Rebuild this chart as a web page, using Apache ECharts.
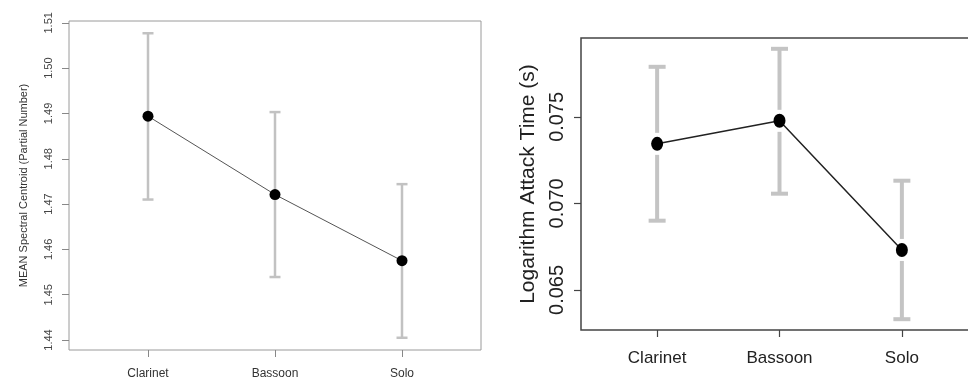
<!DOCTYPE html>
<html>
<head>
<meta charset="utf-8">
<script src="https://cdn.jsdelivr.net/npm/echarts@6/dist/echarts.min.js"></script>
<style>
html,body{margin:0;padding:0;background:#fff;}
#chart{width:968px;height:381px;}
</style>
</head>
<body>
<div id="chart"></div>
<script>
// ---- data ----
const categories = ['Clarinet', 'Bassoon', 'Solo'];
const centroidMean  = [1.4894, 1.4721, 1.4575];
const centroidLower = [1.4710, 1.4539, 1.4405];
const centroidUpper = [1.5077, 1.4903, 1.4744];
const attackMean  = [0.07344, 0.07477, 0.06731];
const attackLower = [0.06900, 0.07056, 0.06331];
const attackUpper = [0.07789, 0.07893, 0.07131];
const centroidTicks = [1.44, 1.45, 1.46, 1.47, 1.48, 1.49, 1.50, 1.51];
const attackTicks = [0.065, 0.070, 0.075];
const xTicks = [1, 2, 3];

const FONT = 'Liberation Sans, Arial, sans-serif';

const posOf = i => i + 1;
const centroidLine = centroidMean.map((v, i) => [posOf(i), v]);
const attackLine = attackMean.map((v, i) => [posOf(i), v]);
const centroidErr = centroidMean.map((v, i) => [posOf(i), v, centroidLower[i], centroidUpper[i]]);
const attackErr = attackMean.map((v, i) => [posOf(i), v, attackLower[i], attackUpper[i]]);

function errRender(opt) {
  return function (params, api) {
    const x = api.value(0), m = api.value(1), l = api.value(2), h = api.value(3);
    const pm = api.coord([x, m]), pl = api.coord([x, l]), ph = api.coord([x, h]);
    const style = { stroke: opt.color, lineWidth: opt.width, lineCap: 'butt' };
    const children = [];
    if (opt.gap > 0) {
      children.push({ type: 'line', shape: { x1: ph[0], y1: ph[1], x2: pm[0], y2: pm[1] - opt.gap }, style });
      children.push({ type: 'line', shape: { x1: pm[0], y1: pm[1] + opt.gap, x2: pl[0], y2: pl[1] }, style });
    } else {
      children.push({ type: 'line', shape: { x1: ph[0], y1: ph[1], x2: pl[0], y2: pl[1] }, style });
    }
    const cw = opt.capWidth / 2;
    children.push({ type: 'line', shape: { x1: ph[0] - cw, y1: ph[1], x2: ph[0] + cw, y2: ph[1] }, style });
    children.push({ type: 'line', shape: { x1: pl[0] - cw, y1: pl[1], x2: pl[0] + cw, y2: pl[1] }, style });
    return { type: 'group', children };
  };
}

const chart = echarts.init(document.getElementById('chart'), null, { renderer: 'canvas' });

const option = {
  animation: false,
  backgroundColor: '#ffffff',
  grid: [
    { left: 69, top: 21, width: 412, height: 329, show: true, borderColor: '#9a9a9a', borderWidth: 1, backgroundColor: 'transparent', containLabel: false, outerBoundsMode: 'none' },
    { left: 581, top: 38, width: 397, height: 292, show: true, borderColor: '#444444', borderWidth: 1.5, backgroundColor: 'transparent', containLabel: false, outerBoundsMode: 'none' }
  ],
  xAxis: [
    {
      type: 'value', gridIndex: 0, min: 0.378, max: 3.622,
      axisLine: { show: false }, splitLine: { show: false },
      axisTick: { show: true, length: 7, lineStyle: { color: '#888888', width: 1 }, customValues: xTicks },
      axisLabel: { show: true, customValues: xTicks, margin: 18, color: '#333333', fontSize: 12, fontFamily: FONT,
        formatter: v => categories[Math.round(v) - 1] || '' }
    },
    {
      type: 'value', gridIndex: 1, min: 0.378, max: 3.622,
      axisLine: { show: false }, splitLine: { show: false },
      axisTick: { show: true, length: 7, lineStyle: { color: '#444444', width: 1.2 }, customValues: xTicks },
      axisLabel: { show: true, customValues: xTicks, margin: 20, color: '#222222', fontSize: 17, fontFamily: FONT,
        formatter: v => categories[Math.round(v) - 1] || '' }
    }
  ],
  yAxis: [
    {
      type: 'value', gridIndex: 0, min: 1.4378, max: 1.5104,
      axisLine: { show: false }, splitLine: { show: false },
      axisTick: { show: true, length: 7, lineStyle: { color: '#888888', width: 1 }, customValues: centroidTicks },
      axisLabel: { show: true, customValues: centroidTicks, rotate: 90, margin: 15, color: '#444444', fontSize: 11, fontFamily: FONT,
        formatter: v => v.toFixed(2) },
      name: 'MEAN Spectral Centroid (Partial Number)', nameLocation: 'middle', nameGap: 40, nameRotate: 90,
      nameTextStyle: { color: '#333333', fontSize: 11, fontFamily: FONT }
    },
    {
      type: 'value', gridIndex: 1, min: 0.062685, max: 0.079555,
      axisLine: { show: false }, splitLine: { show: false },
      axisTick: { show: true, length: 7, lineStyle: { color: '#444444', width: 1.2 }, customValues: attackTicks },
      axisLabel: { show: true, customValues: attackTicks, rotate: 90, margin: 14, color: '#222222', fontSize: 20, fontFamily: FONT,
        formatter: v => v.toFixed(3) },
      name: 'Logarithm Attack Time (s)', nameLocation: 'middle', nameGap: 42, nameRotate: 90,
      nameTextStyle: { color: '#222222', fontSize: 21, fontFamily: FONT }
    }
  ],
  series: [
    {
      type: 'custom', xAxisIndex: 0, yAxisIndex: 0, z: 1,
      renderItem: errRender({ color: '#c2c2c2', width: 2.5, capWidth: 11, gap: 0 }),
      encode: { x: 0, y: [1, 2, 3] },
      data: centroidErr, silent: true
    },
    {
      type: 'line', xAxisIndex: 0, yAxisIndex: 0, z: 2,
      data: centroidLine, symbol: 'circle', symbolSize: 11, showSymbol: true,
      lineStyle: { color: '#555555', width: 1 },
      itemStyle: { color: '#000000', borderWidth: 0 },
      silent: true
    },
    {
      type: 'custom', xAxisIndex: 1, yAxisIndex: 1, z: 1,
      renderItem: errRender({ color: '#c4c4c4', width: 4, capWidth: 17, gap: 11 }),
      encode: { x: 0, y: [1, 2, 3] },
      data: attackErr, silent: true
    },
    {
      type: 'line', xAxisIndex: 1, yAxisIndex: 1, z: 2,
      data: attackLine, symbol: 'circle', symbolSize: [12, 14], showSymbol: true,
      lineStyle: { color: '#222222', width: 1.5 },
      itemStyle: { color: '#000000', borderWidth: 0 },
      silent: true
    }
  ]
};
chart.setOption(option);
</script>
</body>
</html>
